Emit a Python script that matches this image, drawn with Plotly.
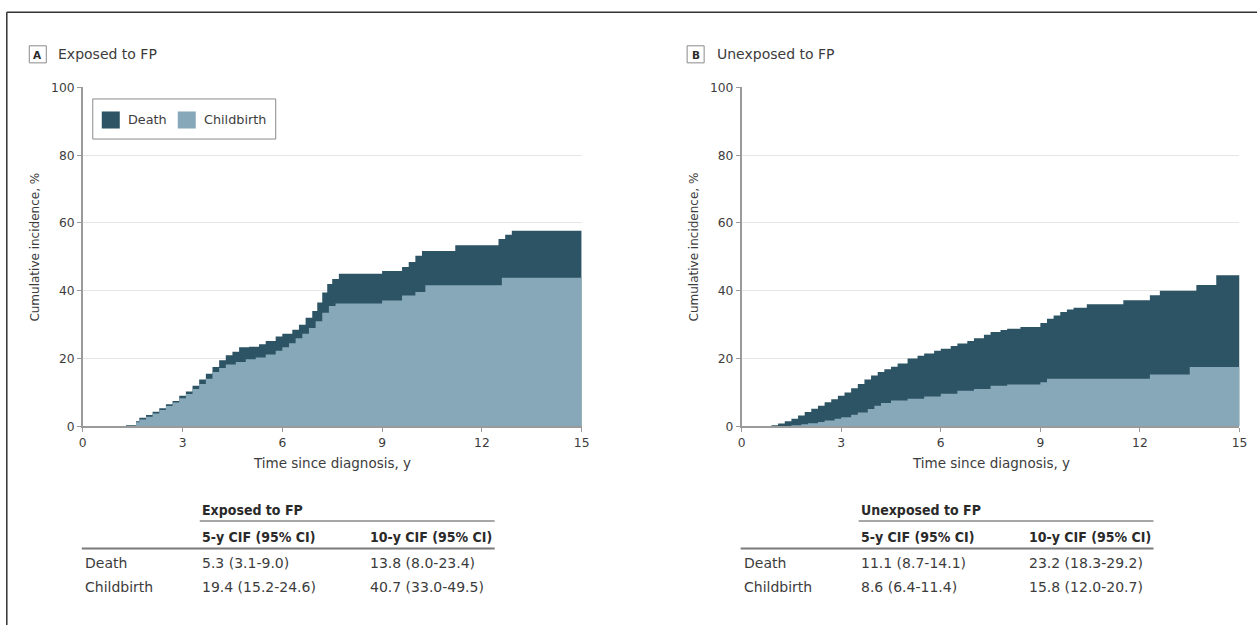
import plotly.graph_objects as go

W, H = 1257, 625
# calibration between intended page pixels and the photographed picture
AX, BX = 4.2, 0.9907
AY, BY = 7.8, 625 / 641

# ---------------- data ----------------
x_ticks = [0, 3, 6, 9, 12, 15]
y_ticks = [0, 20, 40, 60, 80, 100]

# Panel A: Exposed to FP — upper boundary (death stacked on childbirth) and childbirth
a_total_t = [0, 1.0, 1.3, 1.6, 1.7, 1.9, 2.1, 2.3, 2.5, 2.7, 2.9, 3.1, 3.3, 3.5, 3.7, 3.9,
             4.1, 4.3, 4.5, 4.7, 5.0, 5.3, 5.5, 5.8, 6.0, 6.3, 6.5, 6.7, 6.9, 7.05, 7.2,
             7.35, 7.5, 7.7, 9.0, 9.6, 9.8, 10.0, 10.2, 11.2, 12.5, 12.7, 12.9, 15]
a_total_v = [0, 0, 0.3, 1.5, 2.5, 3.3, 4.3, 5.3, 6.5, 7.5, 9.0, 10.3, 12.0, 13.8, 15.5, 17.5,
             19.5, 21.0, 22.0, 23.3, 23.5, 24.2, 25.2, 26.5, 27.3, 28.5, 30.0, 32.0, 34.0, 36.5, 39.5,
             42.0, 43.5, 45.0, 45.8, 47.0, 48.5, 50.3, 51.7, 53.4, 55.3, 56.5, 57.7, 57.7]
a_birth_t = [0, 1.3, 1.6, 1.7, 1.9, 2.1, 2.3, 2.5, 2.7, 2.9, 3.1, 3.3, 3.5, 3.7, 3.9, 4.1,
             4.3, 4.6, 4.9, 5.2, 5.5, 5.8, 6.0, 6.2, 6.4, 6.6, 6.8, 7.0, 7.2, 7.4, 7.6,
             9.0, 9.6, 10.0, 10.3, 12.6, 15]
a_birth_v = [0, 0, 1.2, 2.0, 2.8, 3.8, 4.8, 6.0, 7.0, 8.3, 9.5, 11.0, 12.5, 14.0, 16.0, 17.2,
             18.2, 19.0, 19.8, 20.3, 21.2, 22.3, 23.3, 24.5, 26.0, 27.3, 29.0, 31.0, 33.5, 35.5, 36.2,
             37.1, 38.6, 39.6, 41.6, 43.8, 43.8]

# Panel B: Unexposed to FP
b_total_t = [0, 0.7, 0.9, 1.1, 1.3, 1.5, 1.7, 1.9, 2.1, 2.3, 2.5, 2.7, 2.9, 3.1, 3.3, 3.5,
             3.7, 3.9, 4.1, 4.3, 4.5, 4.7, 5.0, 5.3, 5.5, 5.8, 6.0, 6.3, 6.5, 6.8, 7.0,
             7.3, 7.5, 7.8, 8.0, 8.4, 9.0, 9.2, 9.4, 9.6, 9.8, 10.0, 10.4, 11.5, 12.3,
             12.6, 13.7, 14.3, 15]
b_total_v = [0, 0, 0.3, 0.8, 1.5, 2.2, 3.2, 4.2, 5.2, 6.1, 7.1, 8.0, 9.0, 10.0, 11.2, 12.5,
             13.8, 15.0, 16.0, 16.8, 17.6, 18.5, 20.0, 20.8, 21.5, 22.3, 22.9, 23.7, 24.4, 25.2, 26.0,
             27.0, 27.8, 28.4, 28.8, 29.3, 30.5, 31.7, 32.7, 33.7, 34.5, 35.0, 36.0, 37.2, 38.7,
             40.0, 41.7, 44.6, 44.6]
b_birth_t = [0, 1.3, 1.5, 1.8, 2.0, 2.3, 2.5, 2.8, 3.0, 3.3, 3.5, 3.8, 4.0, 4.2, 4.5, 5.0,
             5.5, 6.0, 6.5, 7.0, 7.5, 8.0, 9.0, 9.2, 12.3, 13.5, 15]
b_birth_v = [0, 0, 0.3, 0.6, 0.9, 1.3, 1.7, 2.2, 2.7, 3.4, 4.1, 5.1, 6.1, 6.9, 7.6, 8.1,
             8.8, 9.6, 10.5, 11.0, 12.0, 12.3, 13.0, 14.0, 15.3, 17.5, 17.5]

series_names = ["Death", "Childbirth"]
panel_letters = ["A", "B"]
panel_titles = ["Exposed to FP", "Unexposed to FP"]
table_headers = ["5-y CIF (95% CI)", "10-y CIF (95% CI)"]
table_a = [["5.3 (3.1-9.0)", "13.8 (8.0-23.4)"], ["19.4 (15.2-24.6)", "40.7 (33.0-49.5)"]]
table_b = [["11.1 (8.7-14.1)", "23.2 (18.3-29.2)"], ["8.6 (6.4-11.4)", "15.8 (12.0-20.7)"]]
x_title = "Time since diagnosis, y"
y_title = "Cumulative incidence, %"

# ---------------- style ----------------
DARK = "#2c5464"
LIGHT = "#87a8b8"
TXT = "#3c3c3c"
HDR = "#2a2a2a"
AXC = "#9a9a9a"
FONT = "DejaVu Sans"
HFONT = "DejaVu Sans Condensed, DejaVu Sans"


def px(x):
    """target picture pixel x -> paper fraction"""
    return ((x - AX) / BX) / W


def py(y):
    """target picture pixel y -> paper fraction"""
    return 1 - ((y - AY) / BY) / H


fig = go.Figure()

panels = [
    dict(ax="", tot=(a_total_t, a_total_v), birth=(a_birth_t, a_birth_v), x0=83, x1=582),
    dict(ax="2", tot=(b_total_t, b_total_v), birth=(b_birth_t, b_birth_v), x0=742, x1=1240),
]
Y0, Y1 = 426, 88

for p in panels:
    xa, ya = "x" + p["ax"], "y" + p["ax"]
    fig.add_trace(go.Scatter(x=p["tot"][0], y=p["tot"][1], mode="lines", name=series_names[0],
                             line=dict(width=0, shape="hv", color=DARK), fill="tozeroy",
                             fillcolor=DARK, showlegend=False, hoverinfo="skip",
                             xaxis=xa, yaxis=ya))
    fig.add_trace(go.Scatter(x=p["birth"][0], y=p["birth"][1], mode="lines", name=series_names[1],
                             line=dict(width=0, shape="hv", color=LIGHT), fill="tozeroy",
                             fillcolor=LIGHT, showlegend=False, hoverinfo="skip",
                             xaxis=xa, yaxis=ya))

axis_common = dict(showline=True, linecolor=AXC, linewidth=1.5, ticks="outside",
                   ticklen=4, tickcolor=AXC, tickfont=dict(family=FONT, size=12.3, color=TXT),
                   zeroline=False, fixedrange=True)

for i, p in enumerate(panels):
    xk = "xaxis" + p["ax"]
    yk = "yaxis" + p["ax"]
    fig.update_layout({
        xk: dict(axis_common, domain=[px(p["x0"]), px(p["x1"])], range=[0, 15],
                 tickvals=x_ticks, showgrid=False, anchor="y" + p["ax"]),
        yk: dict(axis_common, domain=[py(Y0), py(Y1)], range=[0, 100],
                 tickvals=y_ticks, showgrid=True, gridcolor="#e6e6e6", gridwidth=1,
                 anchor="x" + p["ax"]),
    })

annotations = []
shapes = []


def txt(x, y, s, size, color=TXT, xanchor="left", angle=0, family=FONT):
    annotations.append(dict(xref="paper", yref="paper", x=px(x), y=py(y), text=s,
                            showarrow=False, textangle=angle,
                            font=dict(family=family, size=size, color=color),
                            xanchor=xanchor, yanchor="middle"))


def hline(x0, x1, y, color, width):
    shapes.append(dict(type="line", xref="paper", yref="paper", x0=px(x0), x1=px(x1),
                       y0=py(y), y1=py(y), line=dict(color=color, width=width)))


def rect(x0, y0, x1, y1, fill, line_color, lw):
    shapes.append(dict(type="rect", xref="paper", yref="paper", x0=px(x0), x1=px(x1),
                       y0=py(y1), y1=py(y0), fillcolor=fill,
                       line=dict(color=line_color, width=lw)))


# figure border (left and top)
shapes.append(dict(type="line", xref="paper", yref="paper", x0=px(7), x1=1.01,
                   y0=py(13), y1=py(13), line=dict(color="#333", width=1.5)))
shapes.append(dict(type="line", xref="paper", yref="paper", x0=px(7), x1=px(7),
                   y0=py(13), y1=-0.05, line=dict(color="#333", width=1.5)))

# legend (inside panel A)
rect(93, 99.5, 276, 139.5, "white", "#8a8a8a", 1)
rect(102, 112, 120, 129, DARK, DARK, 0)
txt(126, 120.5, series_names[0], 12.8)
rect(178, 112, 196, 129, LIGHT, LIGHT, 0)
txt(202, 120.5, series_names[1], 12.8)

panel_tables = [table_a, table_b]
box_centers = [38, 696]
for i, p in enumerate(panels):
    x0, x1 = p["x0"], p["x1"]
    # panel label box
    bc = box_centers[i]
    rect(bc - 8.5, 46.5, bc + 8.5, 63.5, "white", "#8a8a8a", 1)
    txt(bc, 55.5, "<b>%s</b>" % panel_letters[i], 10.5, HDR, xanchor="center")
    txt(56 + (715 - 56) * i, 54.5, panel_titles[i], 14)
    # axis titles
    txt((x0 + x1) / 2, 463, x_title, 13.5, xanchor="center")
    txt(x0 - 48, 247, y_title, 12, xanchor="center", angle=-90)
    # table
    c1, c2, tr = x0 + 117, x0 + 285, x0 + 412
    txt(c1, 509, "<b>%s</b>" % panel_titles[i], 14, HDR, family=HFONT)
    hline(c1, tr, 520.5, "#8a8a8a", 1.5)
    for hx, ht in zip([c1, c2], table_headers):
        txt(hx, 536, "<b>%s</b>" % ht, 14, HDR, family=HFONT)
    hline(x0 - 1, tr, 548, "#7a7a7a", 2)
    for r, (rname, ry) in enumerate(zip(series_names, [562, 586])):
        txt(x0, ry, rname, 14)
        for cx, val in zip([c1, c2], panel_tables[i][r]):
            txt(cx, ry, val, 14)

fig.update_layout(
    width=W, height=H, margin=dict(l=0, r=0, t=0, b=0),
    paper_bgcolor="white", plot_bgcolor="white",
    font=dict(family=FONT, color=TXT),
    showlegend=False,
    annotations=annotations, shapes=shapes,
)

fig.write_html("out.html", config={"displayModeBar": False},
               post_script="document.body.style.margin='0';")
